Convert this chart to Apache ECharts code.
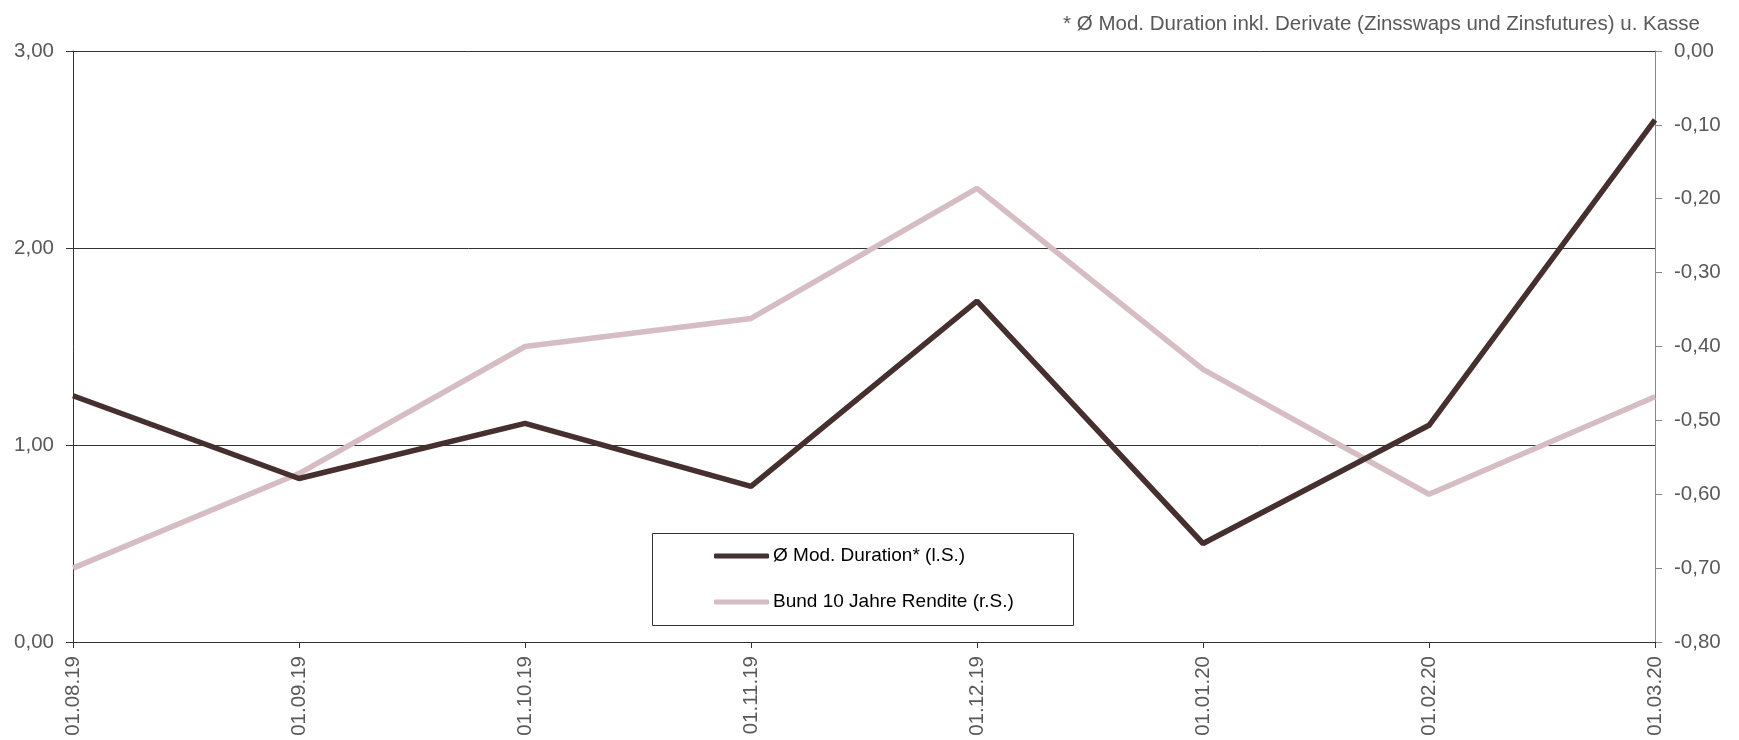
<!DOCTYPE html>
<html><head><meta charset="utf-8">
<script src="https://cdn.jsdelivr.net/npm/echarts@6/dist/echarts.min.js"></script>
<style>html,body{margin:0;padding:0;background:#fff}#c{width:1739px;height:740px}</style>
</head><body><div id="c"></div>
<script>
const categories = ['01.08.19','01.09.19','01.10.19','01.11.19','01.12.19','01.01.20','01.02.20','01.03.20'];
const durationValues = [1.25, 0.83, 1.11, 0.79, 1.73, 0.50, 1.10, 2.65];
const bundValues = [-0.70, -0.572, -0.40, -0.362, -0.186, -0.431, -0.60, -0.468];
const leftTicks = [0, 1, 2, 3];
const rightTicks = [-0.8, -0.7, -0.6, -0.5, -0.4, -0.3, -0.2, -0.1, 0];
const seriesNames = ['Ø Mod. Duration* (l.S.)', 'Bund 10 Jahre Rendite (r.S.)'];
const footnote = '* Ø Mod. Duration inkl. Derivate (Zinsswaps und Zinsfutures) u. Kasse';

const FONT = 'Arial, "Liberation Sans", sans-serif';
const fmt = v => v.toFixed(2).replace('.', ',');
const chart = echarts.init(document.getElementById('c'));
chart.setOption({
  animation: false,
  backgroundColor: '#fff',
  textStyle: { fontFamily: FONT },
  title: {
    text: footnote, right: 34, top: 9,
    textStyle: { fontSize: 20.5, fontWeight: 'normal', color: '#595959', fontFamily: FONT }
  },
  grid: { left: 73, right: 84, top: 51, bottom: 98, containLabel: false },
  graphic: [{
    type: 'rect', left: 652, top: 533, z: 5,
    shape: { width: 421, height: 92 },
    style: { fill: '#fff', stroke: '#333', lineWidth: 1 }
  }],
  legend: {
    orient: 'vertical', left: 709, top: 541, z: 10,
    itemWidth: 55, itemHeight: 5, icon: 'roundRect', itemGap: 26,
    textStyle: { fontSize: 19, color: '#000', fontFamily: FONT, lineHeight: 20, padding: [0,0,0,-1] },
    data: seriesNames
  },
  xAxis: {
    type: 'category', data: categories, boundaryGap: false,
    axisLine: { lineStyle: { color: '#333', width: 1 } },
    axisTick: { show: true, length: 6, alignWithLabel: true, lineStyle: { color: '#333' } },
    axisLabel: { rotate: 90, fontSize: 20.5, color: '#595959', margin: 14, fontFamily: FONT, interval: 0 },
    splitLine: { show: false }
  },
  yAxis: [{
    type: 'value', min: 0, max: 3, interval: 1, position: 'left',
    axisLine: { show: true, lineStyle: { color: '#333' } },
    axisTick: { show: true, length: 7, lineStyle: { color: '#333' } },
    axisLabel: { formatter: fmt, fontSize: 20.5, color: '#595959', margin: 19, fontFamily: FONT },
    splitLine: { show: true, lineStyle: { color: '#333', width: 1 } }
  }, {
    type: 'value', min: -0.8, max: 0, interval: 0.1, position: 'right',
    axisLine: { show: true, lineStyle: { color: '#888' } },
    axisTick: { show: true, length: 7, lineStyle: { color: '#888' } },
    axisLabel: { formatter: fmt, fontSize: 20.5, color: '#595959', margin: 19, fontFamily: FONT },
    splitLine: { show: false }
  }],
  series: [{
    name: seriesNames[0], type: 'line', yAxisIndex: 0, data: durationValues,
    showSymbol: false, symbol: 'none', z: 3,
    lineStyle: { color: '#46302F', width: 5.5 }, itemStyle: { color: '#46302F' }
  }, {
    name: seriesNames[1], type: 'line', yAxisIndex: 1, data: bundValues,
    showSymbol: false, symbol: 'none', z: 2,
    lineStyle: { color: '#D5BDC3', width: 5.5 }, itemStyle: { color: '#D5BDC3' }
  }]
});
</script></body></html>
